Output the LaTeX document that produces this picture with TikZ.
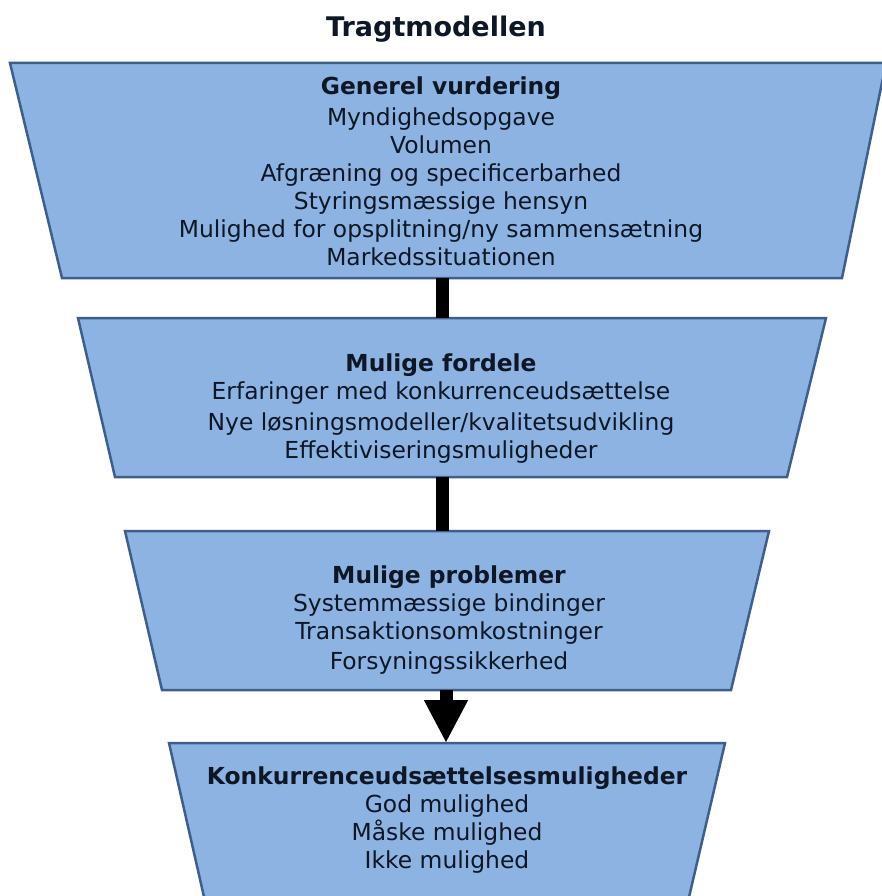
\documentclass[tikz,border=0pt]{standalone}
\usepackage{fontspec}
\setmainfont{DejaVu Sans}
\usetikzlibrary{arrows.meta}
\definecolor{boxfill}{HTML}{8DB3E2}
\definecolor{boxline}{HTML}{3E5F8E}
\definecolor{txt}{HTML}{0E1726}
\begin{document}
\begin{tikzpicture}[x=1pt,y=-1pt,
  funnel/.style={fill=boxfill,draw=boxline,line width=2.5pt,line join=miter},
  boxtext/.style={text=txt,align=center,inner sep=0pt,font=\fontsize{23.4}{28}\selectfont},
  flow/.style={line width=13pt,draw=black},
  flowtip/.style={line width=13pt,draw=black,-{Triangle[width=41pt,length=43pt]}}
]
\useasboundingbox (0,0) rectangle (882,896);
\clip (0,0) rectangle (882,896);
\fill[white] (0,0) rectangle (882,896);

\node[text=txt,font=\bfseries\fontsize{27}{32}\selectfont] (title) at (436,29) {Tragtmodellen};

% funnel stages
\draw[funnel] (10,63) -- (886,63) -- (842,278) -- (62,278) -- cycle;
\draw[funnel] (78,318) -- (826,318) -- (787,477) -- (115,477) -- cycle;
\draw[funnel] (125,531) -- (769,531) -- (731,690) -- (162,690) -- cycle;
\draw[funnel] (169,743) -- (725,743) -- (686,910) -- (207,910) -- cycle;

% connector ends
\coordinate (s1) at (442,278);
\coordinate (n2) at (442,318);
\coordinate (s2) at (442,477);
\coordinate (n3) at (442,531);
\coordinate (s3) at (446,690);
\coordinate (n4) at (446,743);

\draw[flow] (s1) -- (n2);
\draw[flow] (s2) -- (n3);
\draw[flowtip] (s3) -- (n4);

\node[boxtext] (t1) at (441,171) {\textbf{Generel vurdering}\\[3pt]
  Myndighedsopgave\\ Volumen\\ Afgræning og specificerbarhed\\
  Styringsmæssige hensyn\\ Mulighed for opsplitning/ny sammensætning\\
  Markedssituationen};
\node[boxtext] (t2) at (441,409) {\textbf{Mulige fordele}\\
  Erfaringer med konkurrenceudsættelse\\[3pt]
  Nye løsningsmodeller/kvalitetsudvikling\\
  Effektiviseringsmuligheder};
\node[boxtext] (t3) at (449,620) {\textbf{Mulige problemer}\\
  Systemmæssige bindinger\\ Transaktionsomkostninger\\[2pt]
  Forsyningssikkerhed};
\node[boxtext] (t4) at (447,820) {\textbf{Konkurrenceudsættelsesmuligheder}\\
  God mulighed\\ Måske mulighed\\ Ikke mulighed};
\end{tikzpicture}
\end{document}
